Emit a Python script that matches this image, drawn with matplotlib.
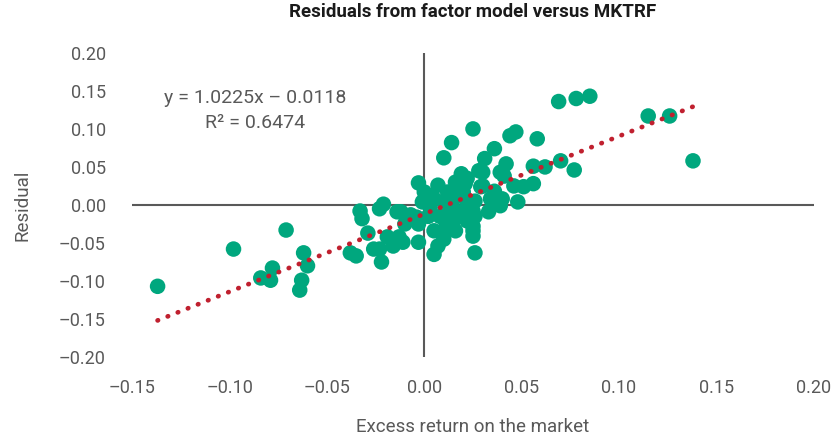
import matplotlib
matplotlib.use("Agg")
import matplotlib.pyplot as plt
import numpy as np

# excess return on the market (x) and residual (y)
mkt = [
    -0.137, -0.098, -0.071, -0.084, -0.079, -0.078, -0.064, -0.063, -0.062, -0.060,
    -0.038, -0.035, -0.033, -0.032, -0.029, -0.026, -0.023, -0.022, -0.023, -0.021,
    -0.019, -0.016, -0.014, -0.013, -0.010, -0.011, -0.012, -0.003, 0.007, 0.000,
    -0.001, 0.005, 0.010, 0.013, -0.004, 0.002, 0.008, -0.003, 0.005, 0.011,
    0.015, -0.003, 0.010, 0.005, 0.020, 0.010, 0.014, 0.019, 0.016,
    0.025, 0.044, 0.047, 0.058, 0.036, 0.031, 0.042, 0.040, 0.030, 0.028,
    0.056, 0.062, 0.021, 0.029, 0.030, 0.036, 0.046, 0.051, 0.056, 0.026,
    0.034, 0.040, 0.039, 0.048, 0.033, 0.025, 0.026, 0.022, 0.025, 0.025,
    0.025, 0.026, 0.019, 0.020, 0.024, 0.069, 0.078, 0.085, 0.115, 0.126,
    0.138, 0.070, 0.077, 0.041, 0.039, 0.012, 0.016, 0.003, -0.007, 0.021,
    0.016, 0.007, 0.004, 0.014, 0.022,
]
resid = [
    -0.107, -0.058, -0.033, -0.096, -0.099, -0.083, -0.112, -0.099, -0.063, -0.080,
    -0.063, -0.067, -0.008, -0.018, -0.037, -0.058, -0.058, -0.075, -0.005, 0.001,
    -0.042, -0.054, -0.009, -0.042, -0.025, -0.049, -0.009, 0.029, 0.026, 0.017,
    0.004, 0.008, 0.005, -0.008, -0.016, -0.015, -0.015, -0.025, -0.034, -0.029,
    -0.021, -0.049, -0.045, -0.065, -0.009, 0.062, 0.082, 0.041, 0.030,
    0.100, 0.091, 0.096, 0.087, 0.074, 0.061, 0.054, 0.043, 0.043, 0.045,
    0.051, 0.050, 0.028, 0.024, 0.025, 0.018, 0.025, 0.024, 0.028, 0.005,
    0.008, 0.008, -0.001, 0.004, -0.009, -0.008, -0.015, -0.021, -0.028, -0.034,
    -0.041, -0.063, -0.009, 0.017, -0.009, 0.136, 0.140, 0.143, 0.117, 0.117,
    0.058, 0.058, 0.046, 0.038, 0.043, 0.017, 0.012, -0.003, -0.013, 0.008,
    -0.034, -0.054, 0.012, 0.000, 0.035,
]
slope = 1.0225
intercept = -0.0118
r_squared = 0.6474

x_ticks = [-0.15, -0.10, -0.05, 0.00, 0.05, 0.10, 0.15, 0.20]
y_ticks = [-0.20, -0.15, -0.10, -0.05, 0.00, 0.05, 0.10, 0.15, 0.20]

grey = "#595959"
plt.rcParams["font.family"] = ["Roboto", "DejaVu Sans"]

fig = plt.figure(figsize=(8.32, 4.37), dpi=100)
ax = fig.add_axes([0.159, 0.183, 0.819, 0.696])

ax.axhline(0, color=grey, lw=1.5, zorder=1)
ax.axvline(0, color=grey, lw=1.5, zorder=1)

ax.scatter(mkt, resid, s=125, color="#00a77e", edgecolors="none", zorder=2)

xs = np.array([min(mkt), max(mkt)])
ax.plot(xs, slope * xs + intercept, color="#c0202f", lw=3.4,
        linestyle=(0, (0.1, 2.2)), dash_capstyle="round", zorder=3)

ax.text(-0.087, 0.141, f"y = {slope}x \u2013 {abs(intercept)}", ha="center", va="center",
        fontsize=14, color=grey)
ax.text(-0.087, 0.108, f"R\u00b2 = {r_squared}", ha="center", va="center",
        fontsize=14, color=grey)

ax.set_xlim(-0.15, 0.20)
ax.set_ylim(-0.20, 0.20)
ax.set_xticks(x_ticks)
ax.set_yticks(y_ticks)
ax.set_xticklabels([f"{v:.2f}".replace("-", "\u2013") for v in x_ticks])
ax.set_yticklabels([f"{v:.2f}".replace("-", "\u2013") for v in y_ticks])
ax.tick_params(length=0, labelsize=13, labelcolor=grey)
ax.tick_params(axis="x", pad=16)
ax.tick_params(axis="y", pad=19)
for s in ax.spines.values():
    s.set_visible(False)

ax.set_xlabel("Excess return on the market", fontsize=13.5, color=grey, labelpad=15)
ax.set_ylabel("Residual", fontsize=13.5, color=grey, labelpad=20)
ax.set_title("Residuals from factor model versus MKTRF", fontsize=13.5,
             fontweight="bold", color="#1a1a1a", pad=26)

fig.savefig("out.png", dpi=100)
